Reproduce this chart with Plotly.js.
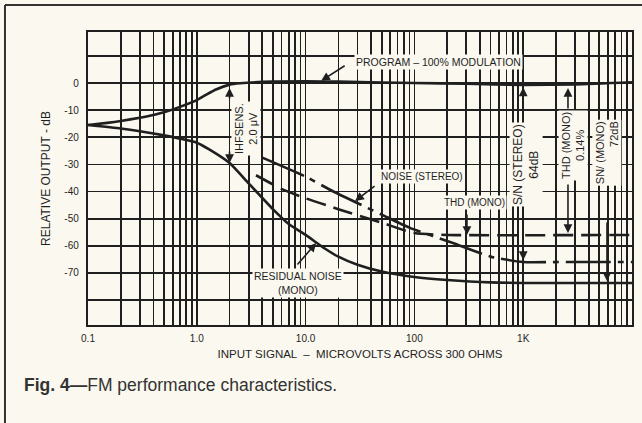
<!DOCTYPE html>
<html><head><meta charset="utf-8">
<script src="https://cdn.plot.ly/plotly-3.0.1.min.js"></script>
<style>html,body{margin:0;padding:0;background:#faf8ef;}#chart{width:642px;height:423px;}</style>
</head><body><div id="chart"></div>
<script>
// ---- data (microvolts, dB) ----
const programX  = [0.1, 0.15, 0.2, 0.3, 0.4, 0.5, 0.7, 1.0, 1.2, 1.5, 2.0, 2.5, 5, 10, 20, 50, 100, 300, 1000, 3000, 10000];
const programY  = [-15.5, -14.7, -14, -12.8, -11.8, -10.8, -8.8, -6.3, -4.5, -2.4, -0.6, -0.1, 0.5, 0.6, 0.5, 0.2, 0, -0.3, -0.7, -0.5, 0.3];
const residualX = [0.1, 0.2, 0.3, 0.5, 0.7, 1.0, 1.3, 2.0, 3.0, 5.0, 7.0, 10, 15, 20, 30, 50, 100, 200, 500, 1000, 10000];
const residualY = [-15.5, -16.8, -17.8, -19.3, -20.5, -22, -24.5, -29.5, -37, -46.5, -52, -56, -61, -64, -67, -69.5, -71.5, -72.6, -73.5, -73.7, -73.7];
const stereoX   = [4, 10, 18, 50, 91, 226, 500, 1000, 2000, 10000];
const stereoY   = [-27.5, -34.5, -40, -48.5, -53.4, -59, -64, -66, -66, -66];
const thdX      = [3.5, 6, 10, 20, 50, 100, 200, 10000];
const thdY      = [-34, -39, -42.5, -46.5, -51.5, -55.3, -56, -56];

const decades = [0.1, 1, 10, 100, 1000, 10000];
const decadeLabels = ['0.1', '1.0', '10.0', '100', '1K', ''];
const yTickVals = [-80, -70, -60, -50, -40, -30, -20, -10, 0, 10];
const yTickText = ['', '-70', '-60', '-50', '-40', '-30', '-20', '-10', '0', ''];

// ---- build ticks ----
const xTickVals = [], xTickText = [];
decades.forEach((d, i) => {
  const last = i === decades.length - 1;
  for (let m = 1; m <= (last ? 1 : 9); m++) {
    xTickVals.push(d * m);
    xTickText.push(m === 1 ? decadeLabels[i] : '');
  }
});

const INK = '#1f1f1f';
const BG = '#faf8ef';
const FONT = 'Liberation Sans, Arial, sans-serif';
const lg = v => Math.log10(v);

const line = (x, y, dash) => ({
  x, y, type: 'scatter', mode: 'lines',
  line: {color: INK, width: 2.6, dash: dash, shape: 'spline', smoothing: 0.55},
  hoverinfo: 'skip', showlegend: false
});

const traces = [
  line(programX, programY, 'solid'),
  line(residualX, residualY, 'solid'),
  line(stereoX, stereoY, '45px,7px,6px,7px'),
  line(thdX, thdY, '20px,8px')
];

function label(xv, yv, text, extra) {
  return Object.assign({x: lg(xv), y: yv, xref: 'x', yref: 'y', text: text, showarrow: false,
    font: {family: FONT, size: 10, color: INK}, bgcolor: BG, borderpad: 1}, extra || {});
}
function arrow(xv, yv, ax, ay) {
  return {x: lg(xv), y: yv, xref: 'x', yref: 'y', text: '', showarrow: true, ax: ax, ay: ay,
    arrowhead: 2, arrowsize: 1.1, arrowwidth: 1.6, arrowcolor: INK, standoff: 0};
}
const vfont = s => ({font: {family: FONT, size: s, color: INK}, textangle: -90});

const annotations = [
  label(168, 7.7, 'PROGRAM – 100% MODULATION', {font: {family: FONT, size: 10.5, color: INK}}),
  arrow(13.9, 0.8, 25, -16),
  label(2.83, -16.6, 'IHFSENS.<br>2.0 μV', vfont(11)),
  arrow(2.0, -1.8, 0, 12),
  arrow(2.0, -29.5, 0, -13),
  label(117, -34.6, 'NOISE (STEREO)'),
  arrow(28.5, -43.5, 21, -16),
  label(360, -44.2, 'THD (MONO)'),
  arrow(304, -56, 0, -22),
  label(1062, -30.2, 'S/N (STEREO)<br>64dB', vfont(12)),
  arrow(1000, -1.6, 0, 31),
  arrow(1000, -65.3, 0, -46),
  label(2870, -23.2, 'THD (MONO)<br>0.14%', vfont(11)),
  arrow(2580, -1.8, 0, 22),
  arrow(2580, -55.3, 0, -50),
  Object.assign(label(5890, -25.5, 'SN/ (MONO)<br>72dB', vfont(11)), {align: 'right'}),
  arrow(5890, -73, 0, -60),
  label(8.5, -73.7, 'RESIDUAL NOISE<br>(MONO)', {font: {family: FONT, size: 10.5, color: INK}}),
  arrow(12.5, -59, -20, 23),
  {xref: 'paper', yref: 'paper', x: -0.121, y: -0.205, xanchor: 'left', yanchor: 'middle', showarrow: false,
   text: '<b>Fig. 4—</b>FM performance characteristics.', font: {family: FONT, size: 17.5, color: '#333'}}
];

const layout = {
  width: 642, height: 423,
  margin: {l: 88, r: 10, t: 32, b: 98},
  paper_bgcolor: BG, plot_bgcolor: BG,
  font: {family: FONT, color: INK},
  xaxis: {
    type: 'log', range: [-1, 4], tickvals: xTickVals, ticktext: xTickText,
    showgrid: true, gridcolor: INK, gridwidth: 1.7, zeroline: false,
    showline: true, mirror: true, linecolor: INK, linewidth: 2.2,
    ticks: '', ticklabelstandoff: 3, tickfont: {size: 10, family: FONT, color: INK},
    title: {text: 'INPUT SIGNAL  –  MICROVOLTS ACROSS 300 OHMS', font: {size: 11.5, family: FONT, color: INK}, standoff: 7}
  },
  yaxis: {
    range: [-89.2, 18.8], tickvals: yTickVals, ticktext: yTickText,
    showgrid: true, gridcolor: INK, gridwidth: 1.7, zeroline: false,
    showline: true, mirror: true, linecolor: INK, linewidth: 2.2,
    ticks: '', ticklabelstandoff: 5, tickfont: {size: 10, family: FONT, color: INK},
    title: {text: 'RELATIVE OUTPUT - dB', font: {size: 12, family: FONT, color: INK}, standoff: 11}
  },
  annotations: annotations,
  shapes: [
    {type: 'line', xref: 'paper', yref: 'paper', x0: -0.1526, x1: -0.1526, y0: 1.0922, y1: -0.34, line: {color: '#333', width: 2}},
    {type: 'line', xref: 'paper', yref: 'paper', x0: -0.1526, x1: 1.02, y0: 1.0922, y1: 1.0922, line: {color: '#333', width: 2}}
  ]
};

Plotly.newPlot('chart', traces, layout, {displayModeBar: false, staticPlot: true});
</script>
</body></html>
